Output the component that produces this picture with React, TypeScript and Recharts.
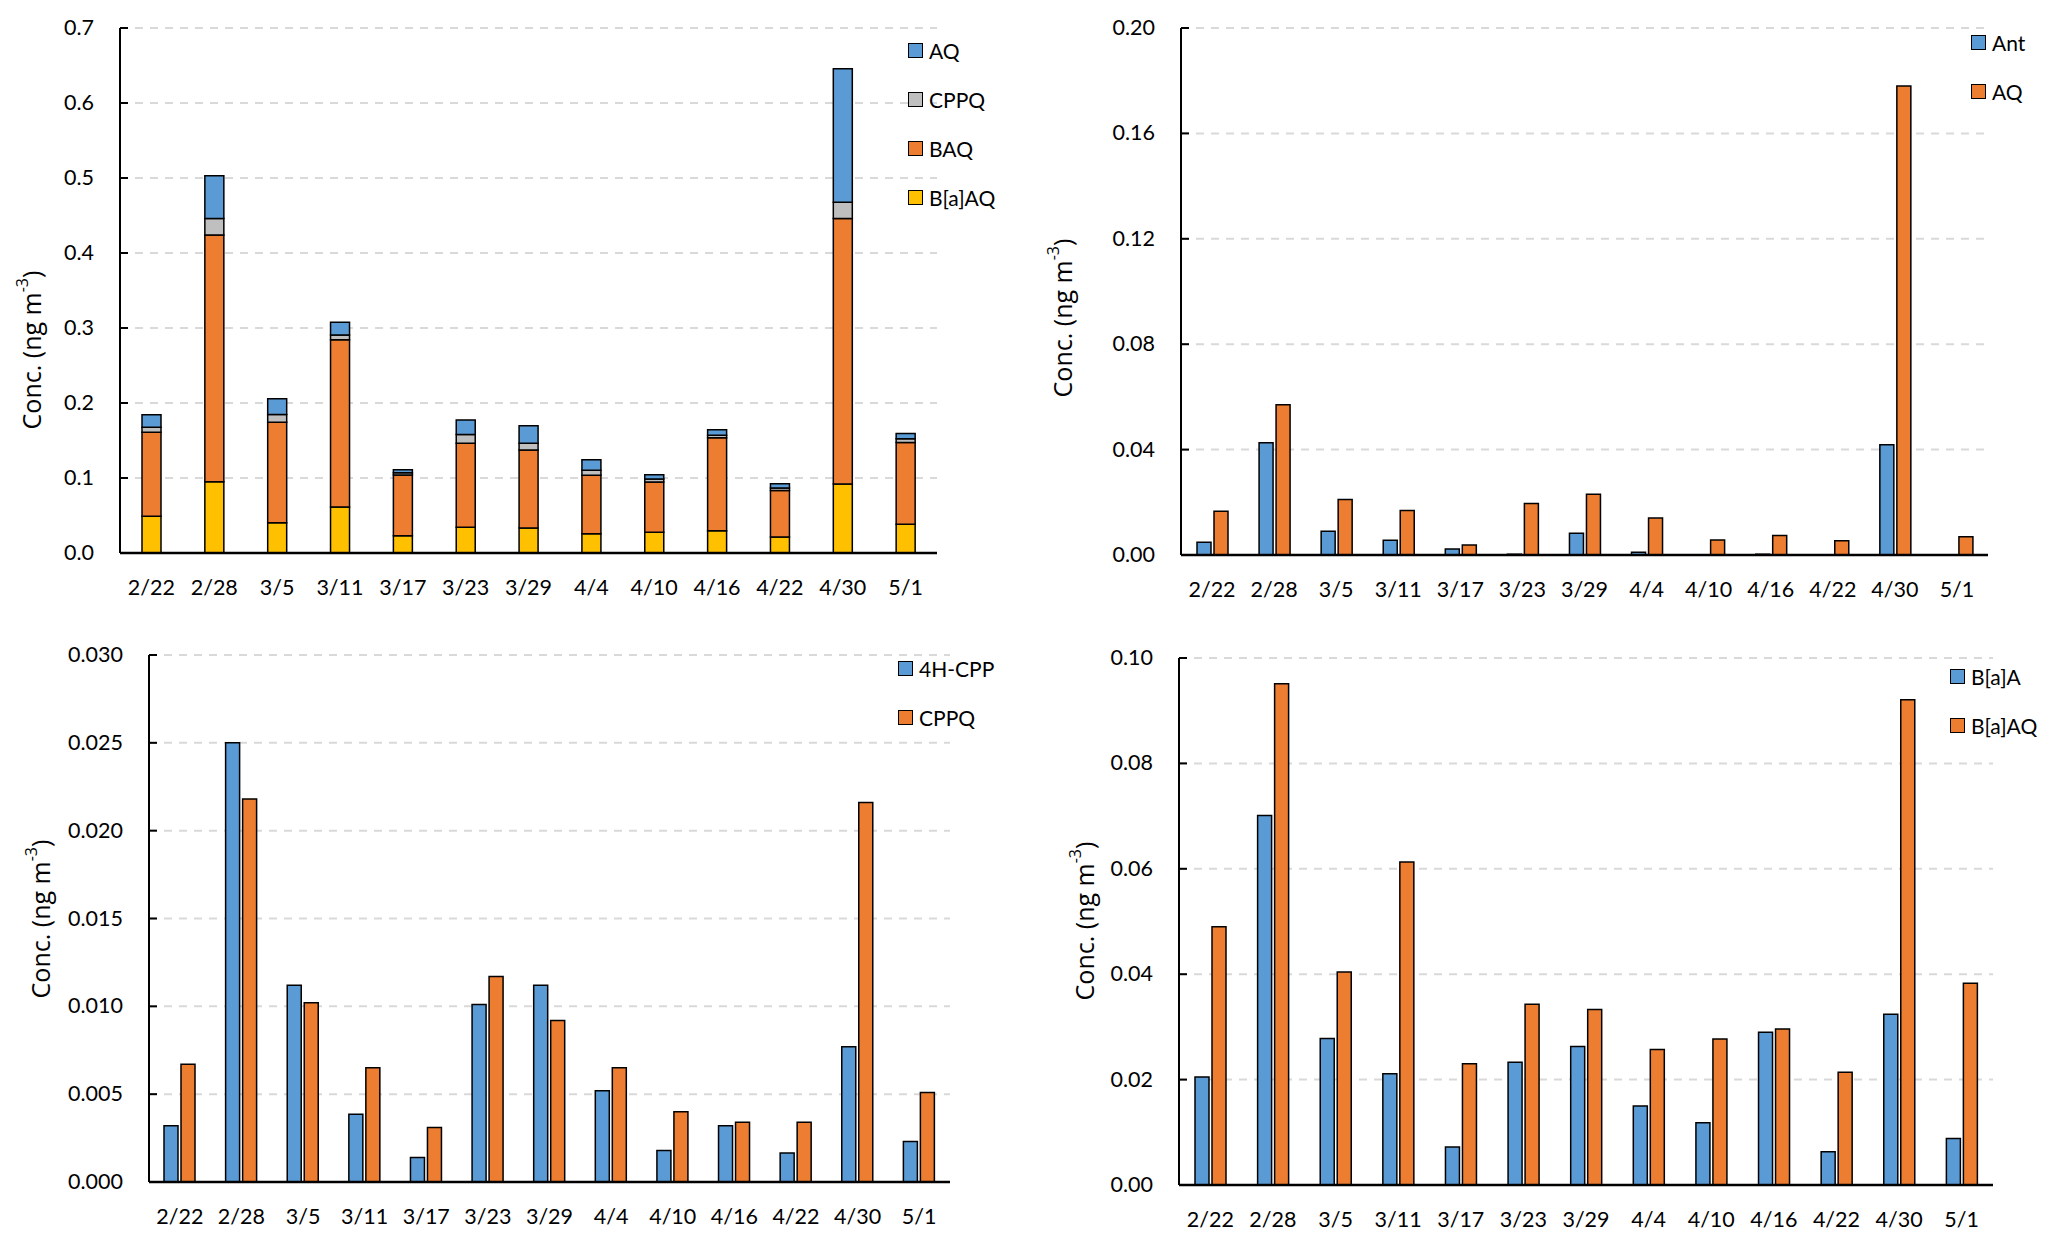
import React from "react";
import { BarChart, Bar, XAxis, YAxis, CartesianGrid } from "recharts";

const dates = ["2/22", "2/28", "3/5", "3/11", "3/17", "3/23", "3/29", "4/4", "4/10", "4/16", "4/22", "4/30", "5/1"];

// concentrations, ng m-3
const baaq = [0.049, 0.0951, 0.0404, 0.0613, 0.023, 0.0343, 0.0333, 0.0257, 0.0277, 0.0296, 0.0214, 0.0921, 0.0383];
const baq = [0.112, 0.329, 0.134, 0.223, 0.081, 0.112, 0.104, 0.078, 0.067, 0.124, 0.062, 0.354, 0.109];
const cppq = [0.0067, 0.0218, 0.0102, 0.0065, 0.0031, 0.0117, 0.0092, 0.0065, 0.004, 0.0034, 0.0034, 0.0216, 0.0051];
const aq = [0.0166, 0.057, 0.0211, 0.0169, 0.0038, 0.0195, 0.0231, 0.014, 0.0057, 0.0074, 0.0054, 0.178, 0.0069];
const ant = [0.0048, 0.0426, 0.009, 0.0056, 0.0023, 0.0003, 0.0083, 0.001, 0, 0.0003, 0, 0.0418, 0];
const cpp4h = [0.0032, 0.025, 0.0112, 0.00385, 0.0014, 0.0101, 0.0112, 0.0052, 0.0018, 0.0032, 0.00165, 0.0077, 0.0023];
const baa = [0.0205, 0.0701, 0.0278, 0.0211, 0.0072, 0.0233, 0.0263, 0.015, 0.0118, 0.029, 0.0063, 0.0324, 0.0088];

const ticksTL = [0, 0.1, 0.2, 0.3, 0.4, 0.5, 0.6, 0.7];
const ticksTR = [0, 0.04, 0.08, 0.12, 0.16, 0.2];
const ticksBL = [0, 0.005, 0.01, 0.015, 0.02, 0.025, 0.03];
const ticksBR = [0, 0.02, 0.04, 0.06, 0.08, 0.1];

const BLUE = "#5B9BD5";
const ORANGE = "#ED7D31";
const GRAY = "#BFBFBF";
const YELLOW = "#FFC000";

type Series = { key: string; name: string; color: string; values: number[] };

const rowsOf = (series: Series[]) =>
  dates.map((d, i) => {
    const row: Record<string, string | number> = { date: d };
    series.forEach((s) => (row[s.key] = s.values[i]));
    return row;
  });

const YTick = (props: any) => {
  const { x, y, payload, digits } = props;
  return (
    <g>
      <line x1={x + 26} x2={x + 34} y1={y} y2={y} stroke="#000" strokeWidth={2} />
      <text x={x} y={y} dy={7} textAnchor="end" fontSize={21.5} fill="#000">
        {Number(payload.value).toFixed(digits)}
      </text>
    </g>
  );
};

interface PanelProps {
  left: number;
  top: number;
  margin: { top: number; right: number; bottom: number; left: number };
  series: Series[];
  stacked?: boolean;
  ticks: number[];
  digits: number;
  barSize: number;
  legend: { x: number; y: number };
  label: { x: number; y: number };
}

function Panel({ left, top, margin, series, stacked, ticks, digits, barSize, legend, label }: PanelProps) {
  const rows = rowsOf(series);
  // stacked legend lists the top segment first
  const legendItems = stacked ? [...series].reverse() : series;
  return (
    <div style={{ position: "absolute", left, top, width: 1033, height: 624 }}>
      <BarChart width={1033} height={624} data={rows} margin={margin} barSize={barSize} barGap={3}>
        <CartesianGrid vertical={false} stroke="#D9D9D9" strokeWidth={2} strokeDasharray="8 7" />
        <XAxis
          dataKey="date"
          interval={0}
          height={40}
          tickLine={false}
          tickSize={0}
          tickMargin={27}
          axisLine={{ stroke: "#000", strokeWidth: 2.5 }}
          tick={{ fontSize: 21.5, fill: "#000" }}
        />
        <YAxis
          width={80}
          domain={[ticks[0], ticks[ticks.length - 1]]}
          ticks={ticks}
          interval={0}
          tickLine={false}
          tickSize={0}
          tickMargin={26}
          axisLine={{ stroke: "#000", strokeWidth: 2 }}
          tick={(p: any) => <YTick {...p} digits={digits} />}
          label={{
            content: () => (
              <text
                x={label.x}
                y={label.y}
                transform={`rotate(-90, ${label.x}, ${label.y})`}
                textAnchor="middle"
                dominantBaseline="central"
                fontFamily="'Open Sans', sans-serif"
                fontSize={25}
                fill="#000"
              >
                Conc. (ng m<tspan dy={-9} fontSize={16}>-3</tspan>
                <tspan dy={9}>)</tspan>
              </text>
            ),
          }}
        />
        {series.map((s) => (
          <Bar
            key={s.key}
            dataKey={s.key}
            name={s.name}
            fill={s.color}
            stroke="#000"
            strokeWidth={1.5}
            stackId={stacked ? "a" : undefined}
            isAnimationActive={false}
          />
        ))}
      </BarChart>
      {legendItems.map((s, i) => (
        <div
          key={s.key}
          style={{
            position: "absolute",
            left: legend.x,
            top: legend.y + i * 49 - 8,
            display: "flex",
            alignItems: "center",
            height: 16,
            fontSize: 21,
            color: "#000",
            whiteSpace: "nowrap",
          }}
        >
          <span
            style={{
              display: "inline-block",
              width: 13,
              height: 13,
              background: s.color,
              border: "1.5px solid #000",
              marginRight: 6,
            }}
          />
          {s.name}
        </div>
      ))}
    </div>
  );
}

export default function App() {
  return (
    <div
      style={{
        position: "absolute",
        left: 0,
        top: 0,
        width: 2067,
        height: 1248,
        background: "#fff",
        fontFamily: "Lato, sans-serif",
      }}
    >
      <Panel
        left={0}
        top={0}
        margin={{ top: 28, right: 96, bottom: 31, left: 40 }}
        stacked
        series={[
          { key: "baaq", name: "B[a]AQ", color: YELLOW, values: baaq },
          { key: "baq", name: "BAQ", color: ORANGE, values: baq },
          { key: "cppq", name: "CPPQ", color: GRAY, values: cppq },
          { key: "aq", name: "AQ", color: BLUE, values: aq },
        ]}
        ticks={ticksTL}
        digits={1}
        barSize={19}
        legend={{ x: 908, y: 50 }}
        label={{ x: 31, y: 350 }}
      />
      <Panel
        left={1034}
        top={0}
        margin={{ top: 28, right: 79, bottom: 29, left: 67 }}
        series={[
          { key: "ant", name: "Ant", color: BLUE, values: ant },
          { key: "aq", name: "AQ", color: ORANGE, values: aq },
        ]}
        ticks={ticksTR}
        digits={2}
        barSize={14}
        legend={{ x: 937, y: 42 }}
        label={{ x: 28, y: 318 }}
      />
      <Panel
        left={0}
        top={624}
        margin={{ top: 31, right: 83, bottom: 26, left: 69 }}
        series={[
          { key: "cpp4h", name: "4H-CPP", color: BLUE, values: cpp4h },
          { key: "cppq", name: "CPPQ", color: ORANGE, values: cppq },
        ]}
        ticks={ticksBL}
        digits={3}
        barSize={14}
        legend={{ x: 898, y: 44 }}
        label={{ x: 40, y: 295 }}
      />
      <Panel
        left={1034}
        top={624}
        margin={{ top: 34, right: 74, bottom: 23, left: 65 }}
        series={[
          { key: "baa", name: "B[a]A", color: BLUE, values: baa },
          { key: "baaq", name: "B[a]AQ", color: ORANGE, values: baaq },
        ]}
        ticks={ticksBR}
        digits={2}
        barSize={14}
        legend={{ x: 916, y: 52 }}
        label={{ x: 50, y: 297 }}
      />
    </div>
  );
}
